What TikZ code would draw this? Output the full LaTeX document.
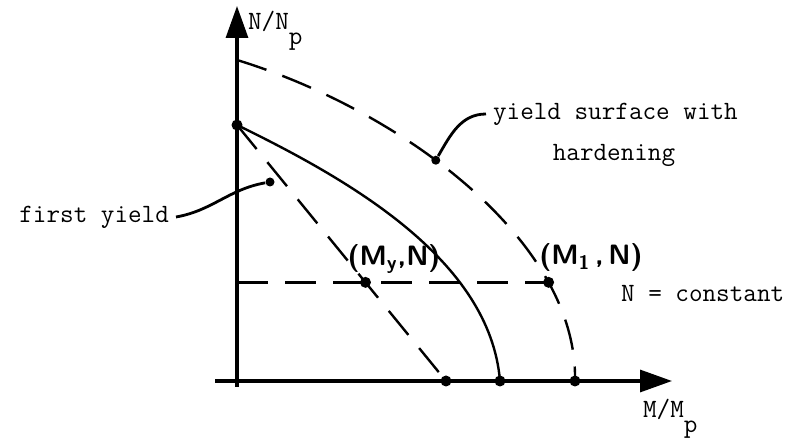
\documentclass[tikz,border=0pt]{standalone}
\usepackage{tikz}
\usetikzlibrary{arrows.meta,positioning,calc}

\begin{document}
\begin{tikzpicture}[x=0.5pt,y=-0.5pt,
  font=\fontsize{13.2}{16}\selectfont\ttfamily,
  axis/.style={line width=1.6pt,-{Triangle[length=16pt,width=11pt]}},
  curve/.style={line width=1.2pt},
  dashline/.style={line width=1.2pt,dash pattern=on 15.5pt off 8.5pt},
  lead/.style={line width=1.4pt},
  pt/.style={circle,fill,inner sep=0pt,minimum size=5.5pt},
  hand/.style={font=\fontsize{14}{16}\selectfont\sffamily\bfseries}]
\useasboundingbox (0,0) rectangle (794,438);
\coordinate (ybot) at (237,387);
\coordinate (ytop) at (237,6);
\coordinate (xleft) at (215,381);
\coordinate (xright) at (672,381);
\draw[axis] (ybot) -- (ytop);
\draw[axis] (xleft) -- (xright);
\coordinate (A) at (237,125);
\coordinate (H) at (237,60);
\coordinate (B) at (446,381);
\coordinate (C) at (500,381);
\coordinate (D) at (575,381);
\draw[curve] (A) .. controls (350,180) and (490,260) .. (C);
\draw[dashline] (H) .. controls (400,110) and (578,240) .. coordinate[pos=0.42] (hd) coordinate[pos=0.76] (Q) (D);
\draw[dashline] (A) -- (B);
\coordinate (Qaxis) at (A |- Q);
\coordinate (P) at (intersection of A--B and Qaxis--Q);
\draw[dashline] (Qaxis) -- (Q);
\node[pt] (Adot) at (A) {};
\node[pt] (Bdot) at (B) {};
\node[pt] (Cdot) at (C) {};
\node[pt] (Ddot) at (D) {};
\node[pt] (Pdot) at (P) {};
\node[pt] (Qdot) at (Q) {};
\node[pt,minimum size=4.5pt] (hddot) at (hd) {};
\node[pt,minimum size=4.5pt] (fydot) at (270,182) {};
\node[hand] (my) at (394,259) {(M\textsubscript{y},N)};
\node[hand] (m1) at (591,258) {(M\textsubscript{1}\,,\,N)};
\node[anchor=west] (ncst) at (614,294) {N = constant};
\node[anchor=west] (ys) at (486,114) {yield surface with};
\node (hard) at (614,155) {hardening};
\node[anchor=east] (fy) at (176,217) {first yield};
\node[anchor=base west] (ylab) at (241,30) {N/N\raisebox{-1.3ex}{p}};
\node[anchor=base west] (xlab) at (636,418) {M/M\raisebox{-1.3ex}{p}};
\draw[lead] (fy.east) to[out=10,in=190] (fydot);
\draw[lead] (ys.west) to[out=180,in=60] (hddot);
\end{tikzpicture}
\end{document}
